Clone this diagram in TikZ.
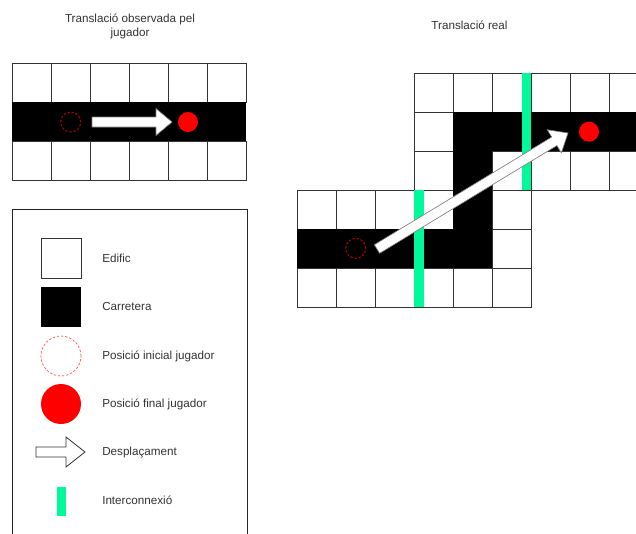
\documentclass[tikz,border=0pt]{standalone}
\usepackage{fontspec}
\setmainfont{Liberation Sans}
\usetikzlibrary{calc,positioning}
\definecolor{linkgreen}{RGB}{0,250,154}
\definecolor{txtgray}{RGB}{51,51,51}

% block arrow: [style]{tail}{tip}{head length}{head half width}
\newcommand{\blockarrow}[5][movearrow]{%
 \coordinate (#2hb) at ($(#3)!#4!(#2)$);
 \draw[#1] ($(#2)!3.75pt!90:(#3)$) -- ($(#2hb)!3.75pt!90:(#3)$)
   -- ($(#2hb)!#5!90:(#3)$) -- (#3) -- ($(#2hb)!#5!-90:(#3)$)
   -- ($(#2hb)!3.75pt!-90:(#3)$) -- ($(#2)!3.75pt!-90:(#3)$) -- cycle;}

\begin{document}
\begin{tikzpicture}[x=.75pt,y=-.75pt,font=\fontsize{8.75}{10.5}\selectfont,
  cell/.style={draw=gray!40!black,fill=white,line width=.75pt},
  road/.style={fill=black},
  link/.style={fill=linkgreen},
  startpt/.style={circle,draw=red!65!black,line width=.8pt,
    dash pattern=on 1.8pt off 1.3pt,minimum size=15pt,inner sep=0pt},
  endpt/.style={circle,fill=red,minimum size=15pt,inner sep=0pt},
  movearrow/.style={draw=gray,fill=white,line width=.5pt},
  keyarrow/.style={draw=gray!40!black,fill=white,line width=.6pt},
  lbl/.style={anchor=west,inner sep=0pt,text=txtgray,
    text height=6.5pt,text depth=1.9pt},
  ttl/.style={align=center,inner sep=0pt,text=txtgray}]
\useasboundingbox (0,0) rectangle (636,533);
\clip (0,0) rectangle (636,533);
% titles
\node[ttl] (ttlObs) at (130,26) {Translació observada pel\\jugador};
\node[ttl] (ttlReal) at (469.5,25) {Translació real};
% observed translation
\foreach \c in {0,...,5}
 \foreach \r in {0,2}
  \draw[cell] ({12+39*\c},{63+39*\r}) rectangle ++(39,39);
\fill[road] (12,102) rectangle (246,141);
\node[startpt] (ini1) at (70.7,122) {};
\node[endpt] (fin1) at (188,122) {};
\coordinate (t1) at (92,122);
\coordinate (h1) at (172,122);
\blockarrow{t1}{h1}{12pt}{10.1pt}
% real translation
\foreach \c in {0,...,5}
 \foreach \r in {0,1,2}{
  \draw[cell] ({414+39*\c},{73+39*\r}) rectangle ++(39,39);
  \draw[cell] ({297+39*\c},{190+39*\r}) rectangle ++(39,39);
 }
\fill[road] (297,229) rectangle (492,268);
\fill[road] (453,112) rectangle (492,268);
\fill[road] (453,112) rectangle (648,151);
\fill[link] (414,190) rectangle (424,307);
\fill[link] (522,73) rectangle (531,190);
\node[startpt] (ini2) at (355.7,248.3) {};
\node[endpt] (fin2) at (589,131.7) {};
\coordinate (t2) at (377,249);
\coordinate (h2) at (568,133);
\blockarrow{t2}{h2}{12pt}{10.1pt}
% legend
\draw[draw=gray!30!black,line width=.75pt] (12,209) rectangle (247,545);
\node[cell,minimum size=30pt,inner sep=0pt] (kEd) at (61,258) {};
\node[road,minimum size=30pt,inner sep=0pt] (kRoad) at (61,307) {};
\node[startpt,draw=red!60,line width=.6pt,minimum size=30pt] (kIni) at (61,356) {};
\node[endpt,minimum size=30pt] (kFin) at (61,404) {};
\coordinate (kT) at (36,452);
\coordinate (kH) at (85,452);
\blockarrow[keyarrow]{kT}{kH}{14.25pt}{11.25pt}
\node[link,minimum width=6.75pt,minimum height=21.75pt,inner sep=0pt]
  (kLink) at (61.5,501.5) {};
\node[lbl] (lEd) at (102,259) {Edific};
\node[lbl] (lRoad) at (102,307) {Carretera};
\node[lbl] (lIni) at (102,356) {Posició inicial jugador};
\node[lbl] (lFin) at (102,404) {Posició final jugador};
\node[lbl] (lMove) at (102,452) {Desplaçament};
\node[lbl] (lLink) at (102,501.5) {Interconnexió};
\end{tikzpicture}
\end{document}
